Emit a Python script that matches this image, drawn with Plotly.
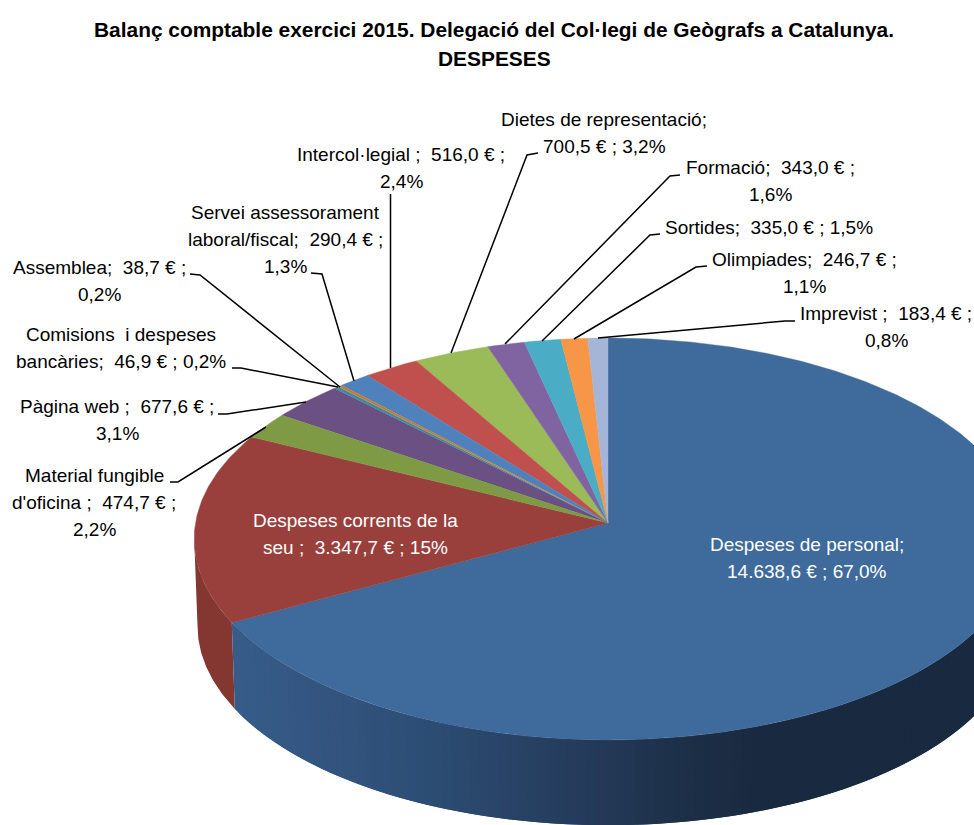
import numpy as np
import plotly.graph_objects as go

# ---------- data ----------
categories = ["Despeses de personal", "Despeses corrents de la seu", "Material fungible d'oficina",
              "Pàgina web", "Comisions i despeses bancàries", "Assemblea",
              "Servei assessorament laboral/fiscal", "Intercol·legial", "Dietes de representació",
              "Formació", "Sortides", "Olimpiades", "Imprevist"]
values = [14638.6, 3347.7, 474.7, 677.6, 46.9, 38.7, 290.4, 516.0, 700.5, 343.0, 335.0, 246.7, 183.4]
label_texts = ["Despeses de personal;<br>14.638,6 € ; 67,0%",
               "Despeses corrents de la<br>seu ;  3.347,7 € ; 15%",
               "Material fungible<br>d'oficina ;  474,7 € ;<br>2,2%",
               "Pàgina web ;  677,6 € ;<br>3,1%",
               "Comisions  i despeses<br>bancàries;  46,9 € ; 0,2%",
               "Assemblea;  38,7 € ;<br>0,2%",
               "Servei assessorament<br>laboral/fiscal;  290,4 € ;<br>1,3%",
               "Intercol·legial ;  516,0 € ;<br>2,4%",
               "Dietes de representació;<br>700,5 € ; 3,2%",
               "Formació;  343,0 € ;<br>1,6%",
               "Sortides;  335,0 € ; 1,5%",
               "Olimpiades;  246,7 € ;<br>1,1%",
               "Imprevist ;  183,4 € ;<br>0,8%"]
title_lines = ["Balanç comptable exercici 2015. Delegació del Col·legi de Geògrafs a Catalunya.", "DESPESES"]

# ---------- styling and layout ----------
colors = ["#3E6A9C", "#9A403C", "#7E9A45", "#6A5083", "#3A8C9E", "#C8782F",
          "#4F81BD", "#C0504D", "#9BBB59", "#8064A2", "#4BACC6", "#F79646", "#A5B5D8"]
FONT = "Liberation Sans, Arial, sans-serif"
W, H = 974, 825
CX, CY, RX, AY, K = 608.0, 523.0, 412.5, 199.7, 0.0795   # projection of the top face
DEPTH, SHRINK = 87.0, 0.992                               # offset of the bottom face
LINE_STEP = 27.0

label_pos = [(807, 558), (355, 534), (94, 502), (117, 420), (121, 348), (99, 281), (285, 239),
             (401, 168), (604, 133), (770, 181), (769, 227), (804, 273), (886, 327)]
leaders = [None, None,
           [(170, 482), (178, 482), (266, 427)],
           [(218, 414), (227, 414), (306, 402)],
           [(232, 368), (241, 368), (338, 387)],
           [(190, 274), (200, 275), (340, 387)],
           [(311, 273), (322, 274), (354, 381)],
           [(390.5, 194), (390.5, 368)],
           [(538, 153), (527, 155), (451, 353)],
           [(680, 175), (670, 176), (505, 344)],
           [(660, 234), (650, 235), (542, 341)],
           [(707, 266), (696, 267), (574, 339)],
           [(795, 321), (785, 321), (598, 338)]]


def top(theta):
    """theta: clockwise radians from 12 o'clock -> projected rim of the top face."""
    u, v = np.sin(theta), np.cos(theta)
    w = 1 + K * v
    return CX + RX * u / w, CY - AY * v / w


def bottom(theta):
    x, y = top(theta)
    return CX + (x - CX) * SHRINK, CY + (y - CY) * SHRINK + DEPTH


def mix(stops, t):
    ts = [s[0] for s in stops]
    return "rgb(%d,%d,%d)" % tuple(round(float(np.interp(t, ts, [s[1][i] for s in stops]))) for i in range(3))


vals = np.array(values)
edges = np.concatenate([[0], np.cumsum(vals) / vals.sum()]) * 2 * np.pi

fig = go.Figure()


def poly(x, y, color, width=0.0):
    fig.add_trace(go.Scatter(x=x, y=y, mode="lines", fill="toself", fillcolor=color,
                             line=dict(color=color, width=width), hoverinfo="skip", showlegend=False))


# side wall of the second slice, up to the rim's leftmost point (the silhouette tangent)
grid = np.linspace(edges[1], edges[2], 400)
theta_left = grid[np.argmin(top(grid)[0])]
th = np.linspace(edges[1], theta_left, 60)
xa, ya = top(th)
xb, yb = bottom(th)
poly(np.r_[xa, xb[::-1]], np.r_[ya, yb[::-1]], "#843630")

# side wall of the first slice, shaded strip by strip
wall_stops = [(232, (56, 92, 138)), (420, (45, 78, 117)), (580, (37, 60, 92)),
              (700, (28, 46, 70)), (770, (25, 41, 63)), (1030, (25, 41, 63))]
strips = np.linspace(edges[1], np.radians(90), 120)
for a, b, c in zip(strips[:-2], strips[1:-1], strips[2:]):
    th = np.linspace(a, c, 5)          # each strip overlaps the next one: no seams
    xa, ya = top(th)
    xb, yb = bottom(th)
    poly(np.r_[xa, xb[::-1]], np.r_[ya, yb[::-1]], mix(wall_stops, float(top(b)[0])))

# top faces
for i in sorted(range(len(vals)), key=lambda j: -vals[j]):
    n = max(4, int((edges[i + 1] - edges[i]) * 80))
    th = np.linspace(edges[i], edges[i + 1], n)
    xa, ya = top(th)
    trace_x, trace_y = np.r_[CX, xa, CX], np.r_[CY, ya, CY]
    fig.add_trace(go.Scatter(x=trace_x, y=trace_y, mode="lines", fill="toself", fillcolor=colors[i],
                             line=dict(color=colors[i], width=0.4 if vals[i] > 100 else 0),
                             hoverinfo="skip", showlegend=False, name=categories[i]))

# leader lines
for pts in leaders:
    if pts:
        fig.add_trace(go.Scatter(x=[p[0] for p in pts], y=[p[1] for p in pts], mode="lines",
                                 line=dict(color="#000000", width=1.5), hoverinfo="skip", showlegend=False))

# data labels, one annotation per line to keep the tall line pitch
for i, text in enumerate(label_texts):
    lines = text.split("<br>")
    for j, line in enumerate(lines):
        fig.add_annotation(x=label_pos[i][0], y=label_pos[i][1] + (j - (len(lines) - 1) / 2) * LINE_STEP,
                           text=line, showarrow=False, xanchor="center", yanchor="middle",
                           font=dict(family=FONT, size=19, color="#FFFFFF" if i < 2 else "#000000"))

for j, line in enumerate(title_lines):
    fig.add_annotation(x=494, y=29 + j * 29, text="<b>" + line + "</b>", showarrow=False,
                       xanchor="center", yanchor="middle",
                       font=dict(family=FONT, size=20.9, color="#000000"))

fig.update_layout(width=W, height=H, margin=dict(l=0, r=0, t=0, b=0), paper_bgcolor="#FFFFFF",
                  plot_bgcolor="#FFFFFF", showlegend=False,
                  xaxis=dict(range=[0, W], visible=False, fixedrange=True),
                  yaxis=dict(range=[H, 0], visible=False, fixedrange=True))

fig.write_html("out.html", config={"displayModeBar": False},
               post_script="document.body.style.margin='0';document.body.style.overflow='hidden';")
